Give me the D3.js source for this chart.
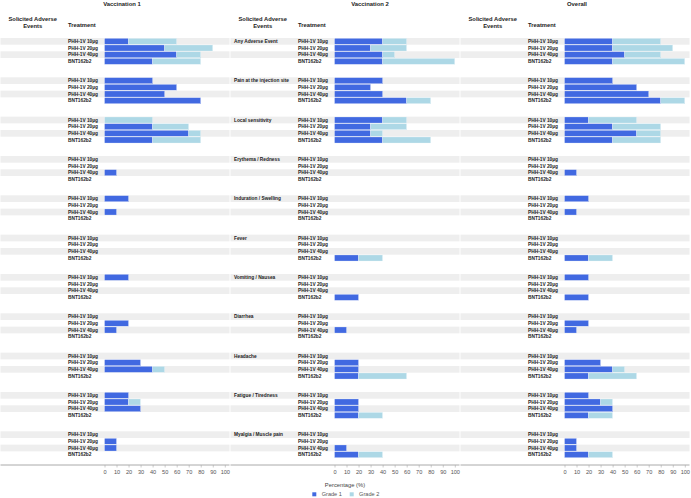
<!DOCTYPE html>
<html><head><meta charset="utf-8">
<script src="https://cdn.jsdelivr.net/npm/d3@7"></script>
<style>
body{margin:0;background:#fff;}
svg{display:block;font-family:"Liberation Sans",Arial,sans-serif;}
</style></head>
<body><svg id="c" width="691" height="498"></svg>
<script>
const events = ["Any Adverse Event","Pain at the injection site","Local sensitivity","Erythema / Redness","Induration / Swelling","Fever","Vomiting / Nausea","Diarrhea","Headache","Fatigue / Tiredness","Myalgia / Muscle pain"];
const treatments = ["PHH-1V 10µg","PHH-1V 20µg","PHH-1V 40µg","BNT162b2"];
const panelTitles = ["Vaccination 1","Vaccination 2","Overall"];
const tickValues = [0,10,20,30,40,50,60,70,80,90,100];
const gradeNames = ["Grade 1","Grade 2"];

const v1Grade1 = [[20,50,60,40],[40,60,50,80],[0,40,70,40],[0,0,10,0],[20,0,10,0],[0,0,0,0],[20,0,0,0],[0,20,10,0],[0,30,40,0],[20,20,30,0],[0,10,10,0]];
const v1Grade2 = [[40,40,20,40],[0,0,0,0],[40,30,10,40],[0,0,0,0],[0,0,0,0],[0,0,0,0],[0,0,0,0],[0,0,0,0],[0,0,10,0],[0,10,0,0],[0,0,0,0]];
const v2Grade1 = [[40,30,40,40],[40,30,40,60],[40,30,30,40],[0,0,0,0],[0,0,0,0],[0,0,0,20],[0,0,0,20],[0,0,10,0],[0,20,20,20],[0,20,20,20],[0,0,10,20]];
const v2Grade2 = [[20,30,10,60],[0,0,0,20],[20,30,10,40],[0,0,0,0],[0,0,0,0],[0,0,0,20],[0,0,0,0],[0,0,0,0],[0,0,0,40],[0,0,0,20],[0,0,0,20]];
const ovGrade1 = [[40,40,50,40],[40,60,70,80],[20,40,60,40],[0,0,10,0],[20,0,10,0],[0,0,0,20],[20,0,0,20],[0,20,10,0],[0,30,40,20],[20,30,40,20],[0,10,10,20]];
const ovGrade2 = [[40,50,30,60],[0,0,0,20],[40,40,20,40],[0,0,0,0],[0,0,0,0],[0,0,0,20],[0,0,0,0],[0,0,0,0],[0,0,10,40],[0,10,0,20],[0,0,0,20]];

const panelData = [[v1Grade1,v1Grade2],[v2Grade1,v2Grade2],[ovGrade1,ovGrade2]];
const colors = ["#4169E1","#ADD8E6"];

const svg = d3.select("#c");
const yEvent = d3.scaleBand().domain(events).range([38,458]).paddingInner(0.322).paddingOuter(0);
const yTreat = d3.scaleBand().domain(treatments).range([0,yEvent.bandwidth()]).padding(0);
const titleX = [122,370,577];
const panelW = 230;

panelTitles.forEach((title,p)=>{
  const ox = p*panelW;
  const g = svg.append("g");
  const x = d3.scaleLinear().domain([0,100]).range([ox+104.5, ox+224.8]);

  g.append("text").attr("x",titleX[p]).attr("y",5.8).attr("text-anchor","middle")
    .attr("font-size",5.9).attr("font-weight","bold").attr("fill","#222").text(title);
  g.append("text").attr("x",ox+32.7).attr("y",20.5).attr("text-anchor","middle")
    .attr("font-size",5.8).attr("font-weight","bold").attr("fill","#222").text("Solicited Adverse");
  g.append("text").attr("x",ox+32.7).attr("y",27.5).attr("text-anchor","middle")
    .attr("font-size",5.8).attr("font-weight","bold").attr("fill","#222").text("Events");
  g.append("text").attr("x",ox+68).attr("y",27.4)
    .attr("font-size",5.8).attr("font-weight","bold").attr("fill","#222").text("Treatment");

  events.forEach((ev,ei)=>{
    const gy = yEvent(ev);
    treatments.forEach((tr,ti)=>{
      const ry = gy + yTreat(tr);
      const rh = yTreat.bandwidth();
      if (ti%2===0) {
        g.append("rect").attr("x",ox+0.5).attr("y",ry).attr("width",panelW-1).attr("height",rh).attr("fill","#eeeeee");
      }
      g.append("text").attr("x",ox+68).attr("y",ry+rh/2).attr("dy","0.35em")
        .attr("font-size",4.8).attr("font-weight","bold").attr("fill","#222").text(tr);
      const g1 = panelData[p][0][ei][ti], g2 = panelData[p][1][ei][ti];
      const segs = [[0,g1],[g1,g1+g2]];
      segs.forEach((s,k)=>{
        if (s[1]-s[0] <= 0) return;
        g.append("rect").attr("x",x(s[0])).attr("y",ry+0.3).attr("width",x(s[1])-x(s[0]))
          .attr("height",rh-0.6).attr("fill",colors[k]).attr("stroke","#fff").attr("stroke-width",0.3);
      });
    });
    if (p===1) {
      g.append("text").attr("x",ox+4).attr("y",gy+yTreat.bandwidth()/2).attr("dy","0.35em")
        .attr("font-size",4.8).attr("font-weight","bold").attr("fill","#222").text(ev);
    }
  });

  // axis
  g.append("line").attr("x1",ox+0.5).attr("x2",ox+panelW-0.5).attr("y1",465).attr("y2",465)
    .attr("stroke","#aaa").attr("stroke-width",1);
  const ax = g.append("g").attr("transform","translate(0,465)")
    .call(d3.axisBottom(x).tickValues(tickValues).tickSize(2.5).tickPadding(2.5));
  ax.select(".domain").remove();
  ax.selectAll("line").attr("stroke","#aaa").attr("stroke-width",0.6);
  ax.selectAll("text").attr("font-size",5.6).attr("fill","#555").attr("font-family","Liberation Sans, Arial, sans-serif");
});

svg.append("text").attr("x",345).attr("y",486.5).attr("text-anchor","middle")
  .attr("font-size",5.8).attr("fill","#444").text("Percentage (%)");
const leg = svg.append("g");
const legX = [312.3, 349.7];
gradeNames.forEach((n,i)=>{
  leg.append("rect").attr("x",legX[i]).attr("y",492.3).attr("width",4).attr("height",4).attr("fill",colors[i]);
  leg.append("text").attr("x",legX[i]+9.4).attr("y",494.3).attr("dy","0.35em")
    .attr("font-size",5.6).attr("fill","#555").text(n);
});
</script></body></html>
